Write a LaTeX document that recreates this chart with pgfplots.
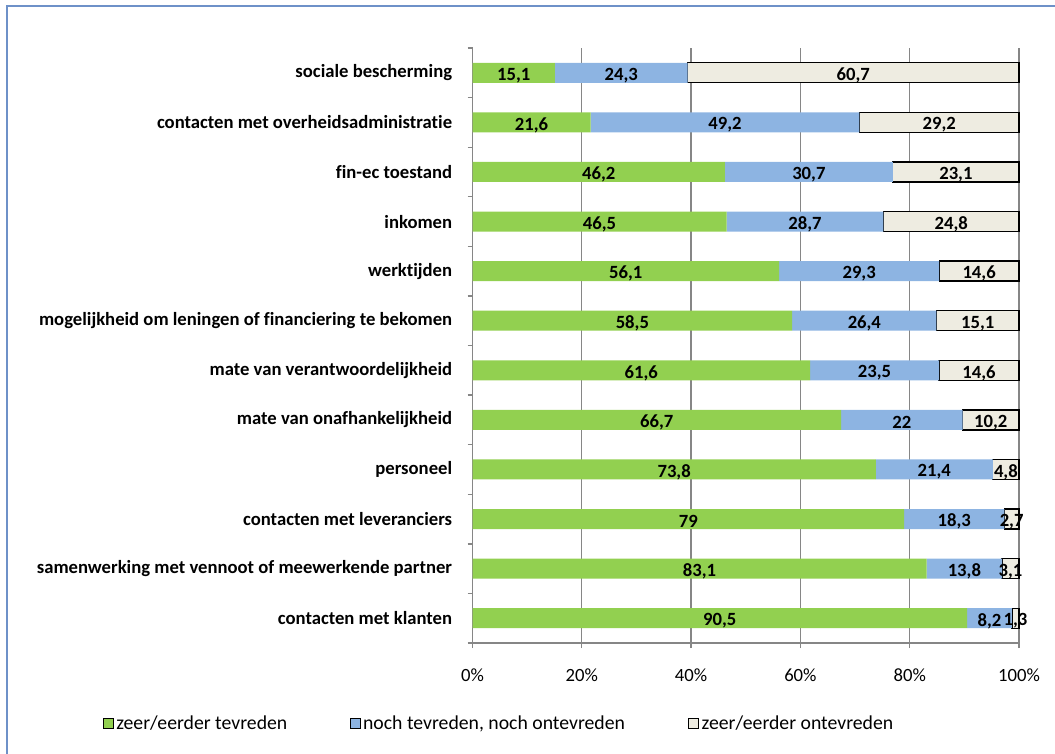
\documentclass[border=0pt]{standalone}
\usepackage{pgfplots}
\pgfplotsset{compat=1.18}
\usepackage{pgfplotstable}
\usepackage{fontspec}
\setmainfont{Carlito}[Ligatures={NoCommon}]
\definecolor{cgreen}{RGB}{146,208,80}
\definecolor{cblue}{RGB}{141,180,226}
\definecolor{cbeige}{RGB}{238,236,225}
\definecolor{cgrid}{RGB}{134,134,134}
\definecolor{cframe}{RGB}{110,145,200}
\newcommand{\fs}{\fontsize{14pt}{16pt}\selectfont}
\pgfplotstableread{
y  gn     bn     wn     gl    bl    wl
11 15.08  24.28  60.64  15,1  24,3  60,7
10 21.6   49.2   29.2   21,6  49,2  29,2
9  46.2   30.7   23.1   46,2  30,7  23,1
8  46.5   28.7   24.8   46,5  28,7  24,8
7  56.1   29.3   14.6   56,1  29,3  14,6
6  58.5   26.4   15.1   58,5  26,4  15,1
5  61.79  23.57  14.64  61,6  23,5  14,6
4  67.44  22.24  10.32  66,7  22    10,2
3  73.8   21.4   4.8    73,8  21,4  4,8
2  79     18.3   2.7    79    18,3  2,7
1  83.1   13.8   3.1    83,1  13,8  3,1
0  90.5   8.2    1.3    90,5  8,2   1,3
}\data
\begin{document}
\begin{tikzpicture}
\useasboundingbox (0pt,0pt) rectangle (791.25pt,-564.75pt);
\draw[cframe, line width=1pt] (5.25pt,-580pt) -- (5.25pt,-4.5pt) -- (800pt,-4.5pt);
\begin{axis}[
  at={(354.375pt,-36pt)}, anchor=north west,
  scale only axis, width=409.875pt, height=446.25pt,
  xbar stacked, bar width=15pt,
  xmin=0, xmax=100, ymin=-0.5, ymax=11.5,
  axis x line*=bottom, axis y line*=left,
  axis line style={cgrid, line width=1pt, -},
  xtick={0,20,40,60,80,100},
  xticklabels={0\%,20\%,40\%,60\%,80\%,100\%},
  xmajorgrids, major grid style={cgrid, line width=1pt},
  ytick={0,...,11},
  yticklabels={contacten met klanten, samenwerking met vennoot of meewerkende partner, contacten met leveranciers, personeel, mate van onafhankelijkheid, mate van verantwoordelijkheid, mogelijkheid om leningen of financiering te bekomen, werktijden, inkomen, fin-ec toestand, contacten met overheidsadministratie, sociale bescherming},
  minor ytick={-0.5,0.5,...,11.5},
  tick align=outside,
  major tick length=3.75pt, minor tick length=3.75pt,
  tick style={cgrid, line width=1pt},
  major y tick style={draw=none},
  tick label style={font=\fs},
  xticklabel style={yshift=-12pt},
  yticklabel style={font=\fs\bfseries, xshift=-8pt},
  point meta=explicit symbolic,
  nodes near coords={\pgfplotspointmeta},
  every node near coord/.append style={anchor=center, font=\fs\bfseries, text=black, yshift=-2pt},
  legend columns=3,
  legend style={at={(0.0494,-0.1355)}, anchor=center, draw=none, fill=none, font=\fontsize{14.8pt}{17pt}\selectfont, /tikz/every even column/.append style={column sep=45pt}},
  sq/.style={legend image code/.code={\draw[##1] (0pt,-3.75pt) rectangle (7.5pt,3.75pt);}},
  clip=false,
]
\addplot[fill=cgreen, draw=none, sq] table[x=gn, y=y, meta=gl] {\data};
\addlegendentry{zeer/eerder tevreden}
\addplot[fill=cblue, draw=none, sq] table[x=bn, y=y, meta=bl] {\data};
\addlegendentry{noch tevreden, noch ontevreden}
\addplot[fill=cbeige, draw=black, line width=1pt, sq] table[x=wn, y=y, meta=wl] {\data};
\addlegendentry{zeer/eerder ontevreden}
\end{axis}
\end{tikzpicture}
\end{document}
